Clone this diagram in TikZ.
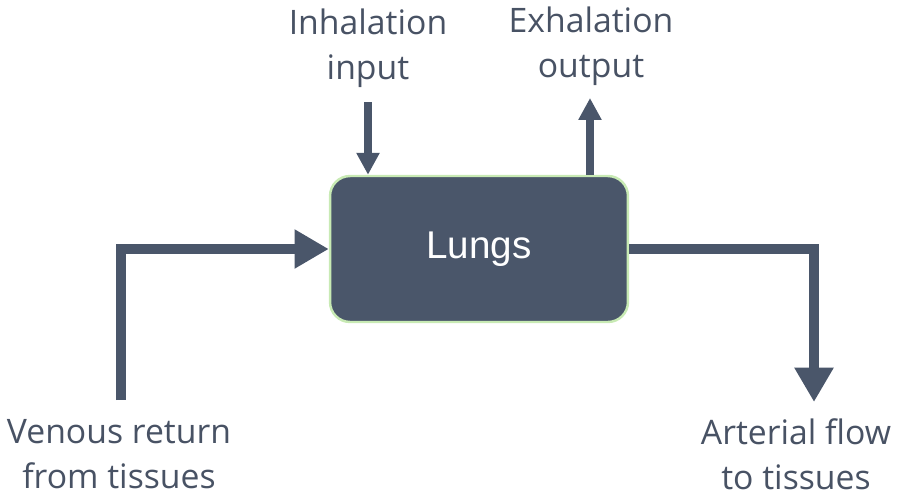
\documentclass[tikz,border=0pt]{standalone}
\usepackage{fontspec}
\setmainfont{Open Sans}
\newfontfamily\boxfont{Liberation Sans}
\definecolor{lgslate}{RGB}{74,86,106}
\definecolor{lgtext}{RGB}{72,82,100}
\definecolor{lgrim}{RGB}{200,234,180}
\usetikzlibrary{arrows.meta,positioning}

\begin{document}
\begin{tikzpicture}[x=0.02cm,y=-0.02cm,
  label text/.style={font=\fontsize{19.2}{25.5}\selectfont,text=lgtext,align=center,inner sep=0pt},
  flow/.style={draw=lgslate,line width=5.3pt,-{Triangle[length=19.5pt,width=21pt]}},
  thin flow/.style={draw=lgslate,line width=4.1pt,-{Triangle[length=12.5pt,width=12.5pt]}}]
\useasboundingbox (0,0) rectangle (899,497);
% central box
\node[draw=lgrim,line width=1.4pt,fill=lgslate,rounded corners=0.4cm,
  minimum width=5.96cm,minimum height=2.92cm,text=white,
  font=\boxfont\fontsize{22}{26}\selectfont] (lungs) at (479,249) {Lungs};
% labels
\node[label text] (inhal) at (368,48) {Inhalation\\input};
\node[label text] (exhal) at (591,46) {Exhalation\\output};
\node[label text] (venous) at (119,454) {Venous return\\from tissues};
\node[label text] (arterial) at (796,454) {Arterial flow\\to tissues};
% arrow ends
\coordinate (inTop) at (368,102);
\coordinate (exTop) at (590,98);
\coordinate (venEnd) at (121,400);
\coordinate (artEnd) at (814,402);
\draw[thin flow] (inTop) -- (inTop |- lungs.north);
\draw[thin flow] (exTop |- lungs.north) -- (exTop);
\draw[flow] (venEnd) |- (lungs.west);
\draw[flow] (lungs.east) -| (artEnd);
\end{tikzpicture}
\end{document}
